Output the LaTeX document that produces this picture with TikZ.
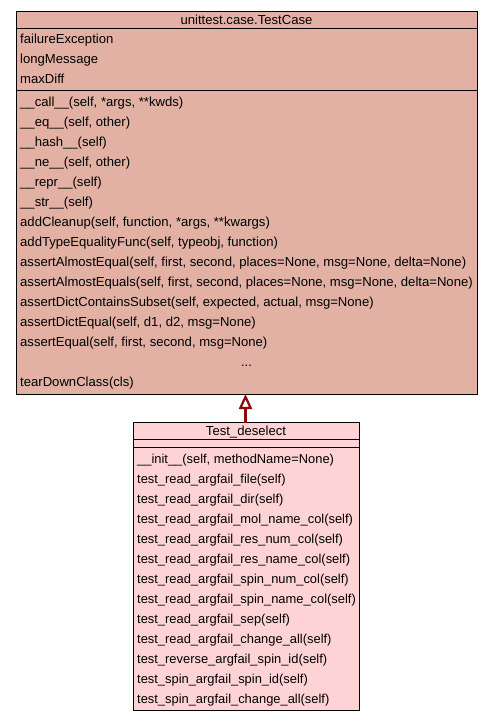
\documentclass[tikz,border=0pt]{standalone}
\usepackage{fontspec}
\setmainfont{Liberation Sans}
\usetikzlibrary{arrows.meta}
\definecolor{basefill}{RGB}{226,177,164}
\definecolor{subfill}{RGB}{254,211,214}
\definecolor{edgecol}{RGB}{139,10,10}
\tikzset{
  classbox/.style={draw=black, line width=1pt, inner sep=0pt, outer sep=0pt, rectangle, anchor=north west},
  member/.style={anchor=base west, inner sep=0pt, font=\fontsize{13.1}{14}\selectfont},
  submember/.style={member, font=\fontsize{12.9}{14}\selectfont},
  title/.style={anchor=base, inner sep=0pt, font=\fontsize{13.1}{14}\selectfont},
  sep/.style={draw=black, line width=1pt},
  inherit/.style={draw=edgecol, line width=2.2pt, -{Triangle[open, length=15pt, width=13pt, line width=2.2pt]}}
}
\begin{document}
\begin{tikzpicture}[x=1pt,y=-1pt]
\useasboundingbox (0,0) rectangle (493,721);
\fill[white] (0,0) rectangle (493,721);
% base class
\node[classbox, fill=basefill, minimum width=461pt, minimum height=383pt] (base) at (16,11) {};
\draw[sep] (16,28.5) -- (477,28.5);
\draw[sep] (16,90.5) -- (477,90.5);
\node[title] (bt) at (246.5,24.5) {unittest.case.TestCase};
\foreach \i/\t in {0/failureException,1/longMessage,2/maxDiff}
  \node[member] (ba\i) at (20,43+20*\i) {\t};
\foreach \i/\t in {
 0/{\_\_call\_\_(self, *args, **kwds)},
 1/{\_\_eq\_\_(self, other)},
 2/{\_\_hash\_\_(self)},
 3/{\_\_ne\_\_(self, other)},
 4/{\_\_repr\_\_(self)},
 5/{\_\_str\_\_(self)},
 6/{addCleanup(self, function, *args, **kwargs)},
 7/{addTypeEqualityFunc(self, typeobj, function)},
 8/{assertAlmostEqual(self, first, second, places=None, msg=None, delta=None)},
 9/{assertAlmostEquals(self, first, second, places=None, msg=None, delta=None)},
 10/{assertDictContainsSubset(self, expected, actual, msg=None)},
 11/{assertDictEqual(self, d1, d2, msg=None)},
 12/{assertEqual(self, first, second, msg=None)}}
  \node[member] (bm\i) at (20,106+20*\i) {\t};
\node[title] (bdots) at (246.5,366) {...};
\node[member] (bm14) at (20,386) {tearDownClass(cls)};
% derived class
\node[classbox, fill=subfill, minimum width=226pt, minimum height=288pt] (sub) at (133,422.7) {};
\draw[sep] (133,439.3) -- (359,439.3);
\draw[sep] (133,447.3) -- (359,447.3);
\node[title] (st) at (246,435.5) {Test\_deselect};
\foreach \i/\t in {
 0/{\_\_init\_\_(self, methodName=None)},
 1/{test\_read\_argfail\_file(self)},
 2/{test\_read\_argfail\_dir(self)},
 3/{test\_read\_argfail\_mol\_name\_col(self)},
 4/{test\_read\_argfail\_res\_num\_col(self)},
 5/{test\_read\_argfail\_res\_name\_col(self)},
 6/{test\_read\_argfail\_spin\_num\_col(self)},
 7/{test\_read\_argfail\_spin\_name\_col(self)},
 8/{test\_read\_argfail\_sep(self)},
 9/{test\_read\_argfail\_change\_all(self)},
 10/{test\_reverse\_argfail\_spin\_id(self)},
 11/{test\_spin\_argfail\_spin\_id(self)},
 12/{test\_spin\_argfail\_change\_all(self)}}
  \node[submember] (sm\i) at (137,463+20*\i) {\t};
% inheritance
\draw[inherit] (sub.north -| 245.5,0) -- (base.south -| 245.5,0);
\end{tikzpicture}
\end{document}
